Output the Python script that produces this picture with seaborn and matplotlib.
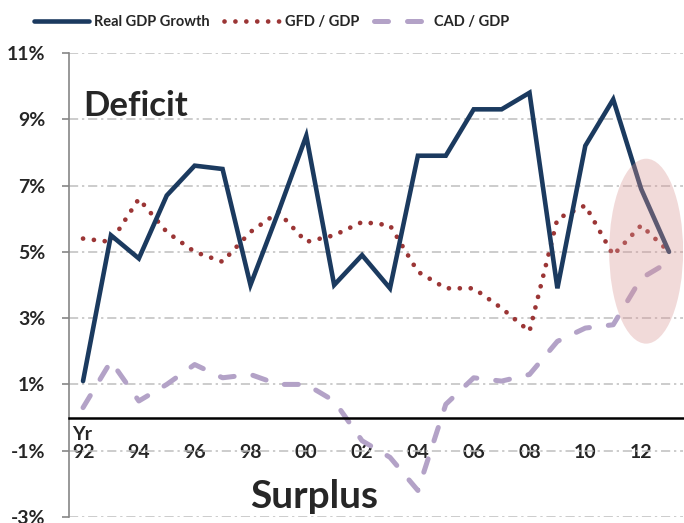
import matplotlib
matplotlib.use("Agg")
import matplotlib.pyplot as plt
import seaborn as sns
import pandas as pd
from matplotlib.patches import Ellipse

# fiscal years 1992 .. 2013
years = ['92', '93', '94', '95', '96', '97', '98', '99', '00', '01', '02',
         '03', '04', '05', '06', '07', '08', '09', '10', '11', '12', '13']
gdp_growth = [1.1, 5.5, 4.8, 6.7, 7.6, 7.5, 4.0, 6.2, 8.5, 4.0, 4.9,
              3.9, 7.9, 7.9, 9.3, 9.3, 9.8, 3.9, 8.2, 9.6, 6.9, 5.0]
gfd_gdp = [5.4, 5.3, 6.6, 5.6, 5.0, 4.7, 5.6, 6.2, 5.3, 5.5, 5.9,
           5.8, 4.4, 3.9, 3.9, 3.3, 2.6, 6.0, 6.4, 4.9, 5.8, 5.0]
cad_gdp = [0.3, 1.7, 0.5, 1.0, 1.6, 1.2, 1.3, 1.0, 1.0, 0.5, -0.7,
           -1.2, -2.2, 0.4, 1.2, 1.1, 1.3, 2.3, 2.7, 2.8, 4.2, 4.7]
y_ticks = [-3, -1, 1, 3, 5, 7, 9, 11]

df = pd.DataFrame({"idx": range(len(years)), "year": years,
                   "gdp": gdp_growth, "gfd": gfd_gdp, "cad": cad_gdp})

sns.set_style("white")
plt.rcParams['font.family'] = ['Lato', 'DejaVu Sans']
plt.rcParams['font.weight'] = 'bold'

fig = plt.figure(figsize=(6.84, 5.23), dpi=100)
ax = fig.add_axes([0.101, 0.0115, 0.8975, 0.8872])

navy = "#1b3a5f"
red = "#9b3535"
lav = "#b3a2c7"

sns.lineplot(data=df, x="idx", y="gdp", ax=ax, color=navy, lw=3.3,
             label="Real GDP Growth", solid_joinstyle="miter", zorder=4)
sns.lineplot(data=df, x="idx", y="gfd", ax=ax, color=red, lw=3.4,
             label="GFD / GDP", zorder=3)
sns.lineplot(data=df, x="idx", y="cad", ax=ax, color=lav, lw=3.6,
             label="CAD / GDP", zorder=2)
lines = ax.get_lines()
lines[1].set_linestyle((0, (0.01, 2.3)))
lines[1].set_dash_capstyle("round")
lines[2].set_linestyle((0, (2.8, 3.8)))
lines[2].set_dash_capstyle("round")

# highlight of the latest years
ax.add_patch(Ellipse((20.18, 5.02), 2.65, 5.58, facecolor="#d99594",
                     alpha=0.35, edgecolor="none", zorder=5))

ax.set_xlim(-0.5, 21.5)
ax.set_ylim(-3, 11)
ax.set_yticks(y_ticks)
ax.set_yticklabels([f"{v}%" for v in y_ticks])
ax.yaxis.grid(True, color="#bfbfbf", lw=1.1, linestyle=(0, (6, 2.5, 1.5, 2.5)))
ax.xaxis.grid(False)

ax.set_xticks(range(0, len(years), 2))
ax.set_xticklabels(years[::2])
ax.set_xticks([i - 0.5 for i in range(len(years) + 1)], minor=True)
ax.tick_params(axis="x", which="major", length=0, pad=19, labelsize=14)
ax.tick_params(axis="x", which="minor", length=5, width=1.5, color="black",
               direction="out")
ax.tick_params(axis="y", length=5, width=1.2, color="#868686", pad=12,
               left=True, labelsize=14)
for lbl in ax.get_xticklabels():
    lbl.set_fontweight("bold")
    lbl.set_bbox(dict(facecolor="white", edgecolor="none", pad=1))
for lbl in ax.get_yticklabels():
    lbl.set_fontweight("bold")

ax.spines["bottom"].set_position(("data", 0))
ax.spines["bottom"].set_color("black")
ax.spines["bottom"].set_linewidth(1.8)
ax.spines["left"].set_color("#868686")
ax.spines["left"].set_linewidth(1.2)
ax.spines["top"].set_visible(False)
ax.spines["right"].set_visible(False)
ax.set_xlabel("")
ax.set_ylabel("")

ax.text(-0.4, -0.5, "Yr", fontsize=14, fontweight="bold", ha="left", va="center")
ax.text(0.02, 9.4, "Deficit", fontsize=25, fontweight="bold", ha="left", va="center")
ax.text(5.99, -2.38, "Surplus", fontsize=28, fontweight="bold", ha="left", va="center")

ax.legend(loc="center", bbox_to_anchor=(0.397, 0.958), bbox_transform=fig.transFigure,
          ncol=3, frameon=False, handlelength=3.8, handletextpad=0.35,
          columnspacing=1.0, prop={"size": 10.5, "weight": "bold"})

fig.savefig("out.png", dpi=100)
